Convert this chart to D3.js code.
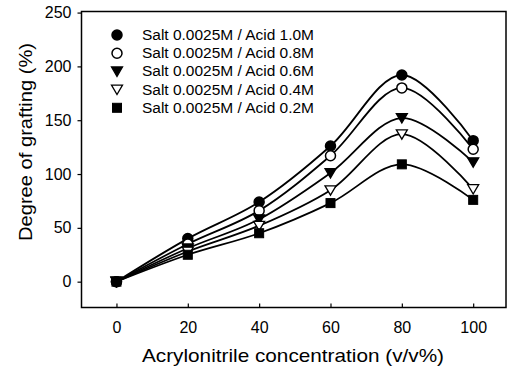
<!DOCTYPE html>
<html><head><meta charset="utf-8">
<script src="https://cdn.jsdelivr.net/npm/d3@7"></script>
<style>body{margin:0;background:#fff}svg{display:block}text{font-family:"Liberation Sans",Arial,sans-serif}</style>
</head><body>
<script>
const xValues = [0, 20, 40, 60, 80, 100];
const seriesNames = ["Salt 0.0025M / Acid 1.0M","Salt 0.0025M / Acid 0.8M","Salt 0.0025M / Acid 0.6M","Salt 0.0025M / Acid 0.4M","Salt 0.0025M / Acid 0.2M"];
const acid10 = [0, 40, 74, 126, 192, 131];
const acid08 = [0, 35, 66, 117, 180, 123];
const acid06 = [0, 31, 58, 101, 152, 111];
const acid04 = [0, 28, 52, 85, 137, 86];
const acid02 = [0, 25, 45, 73, 109, 76];
const markerTypes = ["circleFilled","circleOpen","triDownFilled","triDownOpen","squareFilled"];
const xTicks = [0, 20, 40, 60, 80, 100];
const yTicks = [0, 50, 100, 150, 200, 250];

const W = 508, H = 372;
const svg = d3.select("body").append("svg").attr("width", W).attr("height", H);
const L = 81.5, R = 506, T = 11.5, B = 307.5;
const x = d3.scaleLinear().domain([-9.8, 109.2]).range([L, R]);
const y = d3.scaleLinear().domain([-24, 251]).range([B, T]);

svg.append("rect").attr("x", L).attr("y", T).attr("width", R - L).attr("height", B - T)
  .attr("fill", "none").attr("stroke", "#000").attr("stroke-width", 1.5);

const gx = svg.append("g").attr("transform", `translate(0,${B})`)
  .call(d3.axisBottom(x).tickValues(xTicks).tickSizeInner(-4).tickSizeOuter(0).tickPadding(14));
const gy = svg.append("g").attr("transform", `translate(${L},0)`)
  .call(d3.axisLeft(y).tickValues(yTicks).tickSizeInner(4).tickSizeOuter(0).tickPadding(6));
[gx, gy].forEach(g => {
  g.select(".domain").remove();
  g.selectAll("text").attr("font-size", 16).attr("fill", "#000").style("font-family", '"Liberation Sans",Arial,sans-serif');
  g.selectAll("line").attr("stroke", "#000").attr("stroke-width", 1.2);
});

svg.append("text").attr("x", 293).attr("y", 362).attr("text-anchor", "middle")
  .attr("font-size", 19).attr("textLength", 302).attr("lengthAdjust", "spacingAndGlyphs")
  .text("Acrylonitrile concentration (v/v%)");
svg.append("text").attr("transform", "translate(32,142) rotate(-90)").attr("text-anchor", "middle")
  .attr("font-size", 19).attr("textLength", 198).attr("lengthAdjust", "spacingAndGlyphs")
  .text("Degree of grafting (%)");

const series = [acid10, acid08, acid06, acid04, acid02];
const line = d3.line().x((d, i) => x(xValues[i])).y(d => y(d)).curve(d3.curveCatmullRom.alpha(0.5));

series.forEach(s => {
  svg.append("path").attr("d", line(s)).attr("fill", "none").attr("stroke", "#000").attr("stroke-width", 1.8);
});

function drawMarker(g, type, cx, cy) {
  const r = 5;
  if (type.startsWith("circle")) {
    g.append("circle").attr("cx", cx).attr("cy", cy).attr("r", r)
      .attr("fill", type === "circleFilled" ? "#000" : "#fff").attr("stroke", "#000").attr("stroke-width", 1.5);
  } else if (type.startsWith("triDown")) {
    const s = 5.5;
    g.append("path").attr("d", `M${cx - s},${cy - s * 0.8}L${cx + s},${cy - s * 0.8}L${cx},${cy + s * 0.9}Z`)
      .attr("fill", type === "triDownFilled" ? "#000" : "#fff").attr("stroke", "#000").attr("stroke-width", 1.3);
  } else {
    const s = 4.5;
    g.append("rect").attr("x", cx - s).attr("y", cy - s).attr("width", 2 * s).attr("height", 2 * s)
      .attr("fill", "#000").attr("stroke", "#000").attr("stroke-width", 1);
  }
}

const mg = svg.append("g");
series.forEach((s, k) => {
  s.forEach((v, i) => drawMarker(mg, markerTypes[k], x(xValues[i]), y(v)));
});

const lg = svg.append("g");
seriesNames.forEach((n, k) => {
  const ly = 35 + k * 18.2;
  drawMarker(lg, markerTypes[k], 117, ly);
  lg.append("text").attr("x", 142).attr("y", ly + 5).attr("font-size", 14)
    .attr("textLength", 172).attr("lengthAdjust", "spacingAndGlyphs").text(n);
});
</script>
</body></html>
